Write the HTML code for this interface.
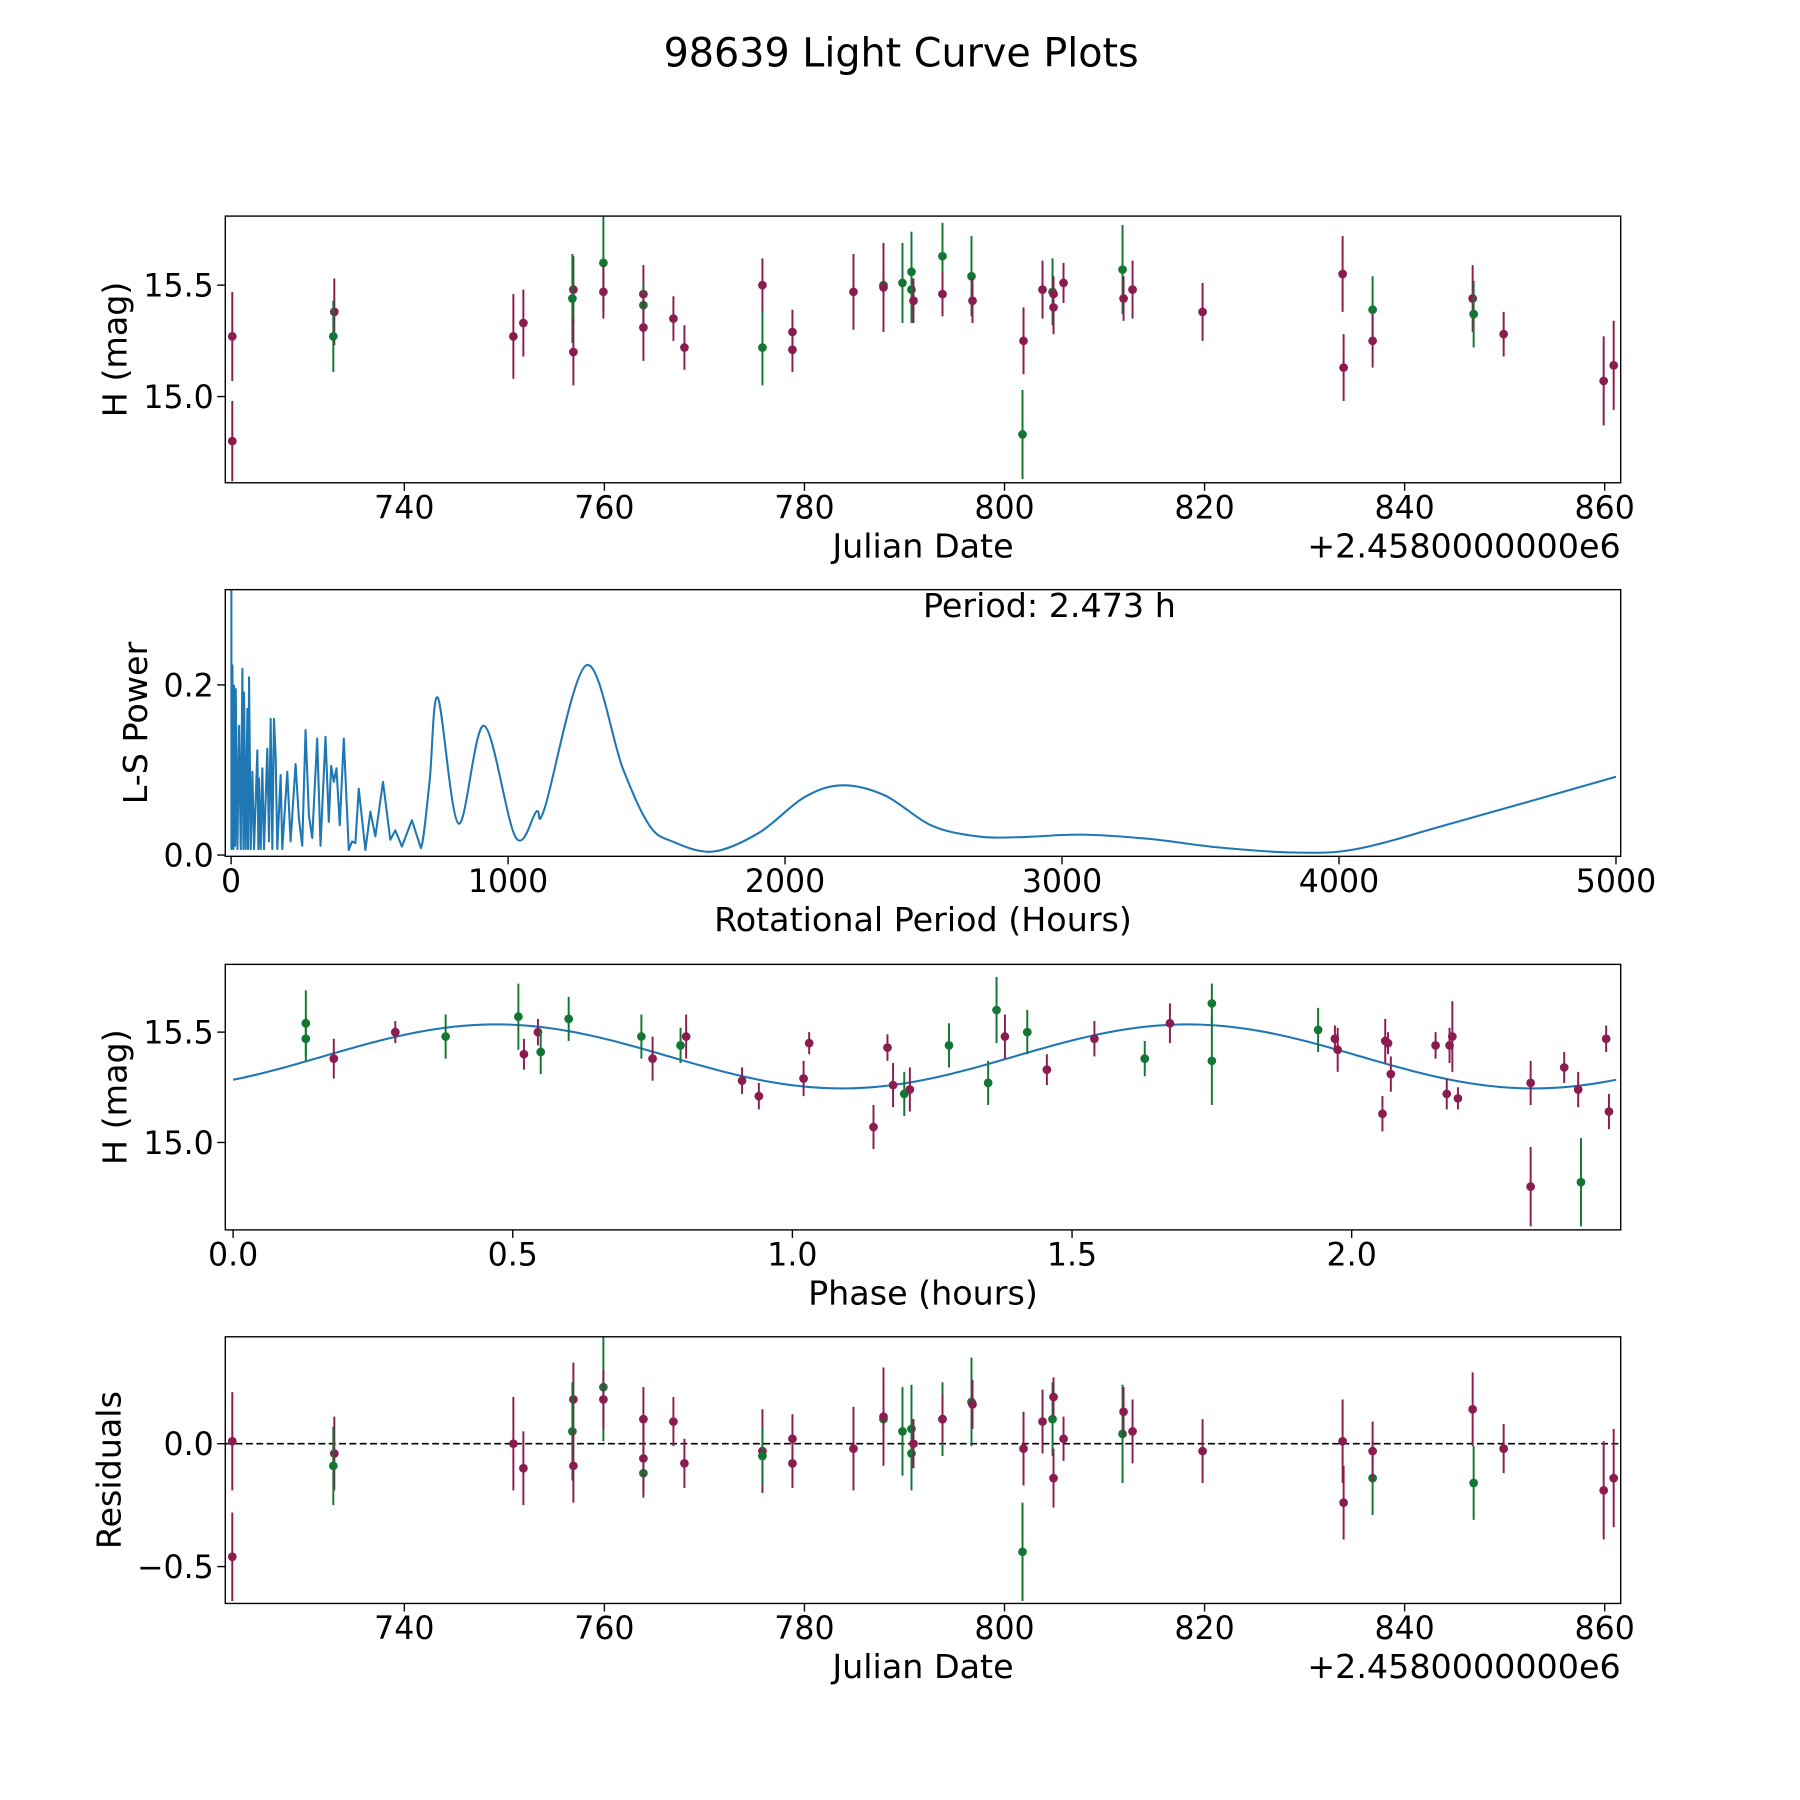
<!DOCTYPE html>
<html><head><meta charset="utf-8"><style>
html,body{margin:0;padding:0;background:#fff}
svg{display:block;font-family:"DejaVu Sans","Liberation Sans",sans-serif}
</style></head><body>
<svg id="fig" width="1800" height="1800" viewBox="0 0 1566 1566" xmlns="http://www.w3.org/2000/svg">
<rect width="1566" height="1566" fill="#fff"/>
<text x="784" y="58" font-size="34.5" text-anchor="middle">98639 Light Curve Plots</text>
</svg>
<script>
// ---------- data ----------
const PURPLE="#8a1c50", GREEN="#117733", BLUE="#1f77b4";
// panel 1: raw light curve
const lcDates=[722.8,722.8,733.0,732.9,750.9,751.9,756.9,756.8,756.9,759.9,759.9,763.9,763.9,763.9,766.9,768.0,775.8,775.8,778.8,778.8,784.9,787.9,787.9,789.8,790.7,790.7,790.9,793.8,793.8,796.7,796.8,801.9,801.8,803.8,804.8,804.9,804.9,805.9,811.8,811.9,812.8,819.8,833.8,833.9,836.8,836.8,846.8,846.9,849.9,859.9,860.9];
const lcMags=[14.80,15.27,15.38,15.27,15.27,15.33,15.48,15.44,15.20,15.60,15.47,15.46,15.41,15.31,15.35,15.22,15.22,15.50,15.29,15.21,15.47,15.50,15.49,15.51,15.56,15.48,15.43,15.63,15.46,15.54,15.43,15.25,14.83,15.48,15.47,15.46,15.40,15.51,15.57,15.44,15.48,15.38,15.55,15.13,15.39,15.25,15.44,15.37,15.28,15.07,15.14];
const lcErrs=[0.18,0.2,0.15,0.16,0.19,0.15,0.15,0.2,0.15,0.22,0.12,0.13,0.1,0.15,0.1,0.1,0.17,0.12,0.1,0.1,0.17,0.05,0.2,0.18,0.18,0.15,0.1,0.15,0.1,0.18,0.1,0.15,0.2,0.13,0.15,0.08,0.12,0.09,0.2,0.1,0.13,0.13,0.17,0.15,0.15,0.12,0.15,0.15,0.1,0.2,0.2];
const lcBands=["P","P","P","G","P","P","P","G","P","G","P","P","G","P","P","P","G","P","P","P","P","G","P","G","G","G","P","G","P","G","P","P","G","P","G","P","P","P","G","P","P","P","P","P","G","P","P","G","P","P","P"];
// panel 2: periodogram
const lsPeriods=[1,1.2,4.8,8.4,10.8,14.4,16.8,22.8,28.8,34.8,40.8,44.4,46.8,52.8,58.8,61.2,64.8,70.8,76.8,82.8,94.8,98.4,100.8,106.8,112.8,118.8,130.8,136.8,142.8,148.8,154.8,160.8,166.8,178.8,184.8,202.8,214.8,232.8,244.8,256.8,268.8,280.8,292.8,310.8,322.8,340.8,352.8,361.2,370.8,380.4,392.4,406.8,424.8,436.8,448.8,460.8,484.8,502.8,520.8,548.4,574.8,592.8,616.8,652.8,685.2,716.4,746.4,821,913,1027,1102,1132,1282,1414,1510,1593,1738,1905,2070,2207,2361,2527,2693,2850,3066,3315,3564,3834,4062,4394,5000];
const lsPowers=[0.32,0.007,0.223,0.007,0.199,0.011,0.195,0.007,0.152,0.007,0.219,0.007,0.191,0.007,0.172,0.007,0.209,0.007,0.098,0.007,0.123,0.007,0.090,0.007,0.102,0.007,0.125,0.016,0.160,0.007,0.160,0.117,0.007,0.094,0.007,0.098,0.016,0.107,0.043,0.011,0.147,0.047,0.020,0.137,0.011,0.139,0.039,0.105,0.086,0.102,0.035,0.137,0.006,0.016,0.014,0.078,0.006,0.051,0.022,0.086,0.018,0.029,0.010,0.041,0.008,0.086,0.185,0.037,0.152,0.021,0.051,0.055,0.223,0.102,0.035,0.016,0.004,0.026,0.068,0.082,0.070,0.035,0.022,0.021,0.024,0.019,0.009,0.003,0.007,0.036,0.092];
const periodLabel="Period: 2.473 h";
// panel 3: phased curve
const phPhases=[0.13,0.13,0.18,0.29,0.38,0.51,0.52,0.545,0.55,0.60,0.73,0.75,0.80,0.81,0.91,0.94,1.02,1.03,1.145,1.17,1.18,1.20,1.21,1.28,1.35,1.365,1.38,1.42,1.455,1.54,1.63,1.675,1.75,1.75,1.94,1.97,1.975,2.055,2.06,2.065,2.07,2.15,2.17,2.175,2.18,2.19,2.32,2.32,2.38,2.405,2.41,2.455,2.46];
const phMags=[15.54,15.47,15.38,15.50,15.48,15.57,15.40,15.50,15.41,15.56,15.48,15.38,15.44,15.48,15.28,15.21,15.29,15.45,15.07,15.43,15.26,15.22,15.24,15.44,15.27,15.60,15.48,15.50,15.33,15.47,15.38,15.54,15.63,15.37,15.51,15.47,15.42,15.13,15.46,15.45,15.31,15.44,15.22,15.44,15.48,15.20,15.27,14.80,15.34,15.24,14.82,15.47,15.14];
const phErrs=[0.15,0.1,0.09,0.05,0.1,0.15,0.07,0.06,0.1,0.1,0.1,0.1,0.08,0.1,0.06,0.06,0.08,0.05,0.1,0.06,0.1,0.1,0.1,0.1,0.1,0.15,0.1,0.1,0.07,0.08,0.08,0.09,0.09,0.2,0.1,0.06,0.1,0.08,0.1,0.05,0.08,0.06,0.07,0.08,0.16,0.05,0.1,0.18,0.07,0.08,0.2,0.06,0.08];
const phBands=["G","G","P","P","G","G","P","P","G","G","G","P","G","P","P","P","P","P","P","P","P","G","P","G","G","G","P","G","P","P","G","P","G","G","G","P","P","P","P","P","P","P","P","P","P","P","P","P","P","P","G","P","P"];
const modelMean=15.39, modelAmp=0.145, modelPeakPhase=0.47, modelCycle=1.2365;
// panel 4: residuals
const resDates=[722.8,722.8,733.0,732.9,750.9,751.9,756.9,756.8,756.9,759.9,759.9,763.9,763.9,763.9,766.9,768.0,775.8,775.8,778.8,778.8,784.9,787.9,787.9,789.8,790.7,790.7,790.9,793.8,793.8,796.7,796.8,801.9,801.8,803.8,804.8,804.9,804.9,805.9,811.8,811.9,812.8,819.8,833.8,833.9,836.8,836.8,846.8,846.9,849.9,859.9,860.9];
const resVals=[-0.46,0.01,-0.04,-0.09,0.0,-0.10,0.18,0.05,-0.09,0.23,0.18,0.10,-0.12,-0.06,0.09,-0.08,-0.03,-0.05,0.02,-0.08,-0.02,0.10,0.11,0.05,0.06,-0.04,0.0,0.10,0.10,0.17,0.16,-0.02,-0.44,0.09,0.10,0.19,-0.14,0.02,0.04,0.13,0.05,-0.03,0.01,-0.24,-0.14,-0.03,0.14,-0.16,-0.02,-0.19,-0.14];
const resBands=["P","P","P","G","P","P","P","G","P","G","P","P","G","P","P","P","P","G","P","P","P","G","P","G","G","G","P","G","P","G","P","P","G","P","G","P","P","P","G","P","P","P","P","P","G","P","P","G","P","P","P"];
const resErrs=lcErrs;
const dateTicks=[740,760,780,800,820,840,860];
const magTicks=[15.0,15.5];
const periodTicks=[0,1000,2000,3000,4000,5000];
const powerTicks=[0.0,0.2];
const phaseTicks=[0.0,0.5,1.0,1.5,2.0];
const resTicks=[-0.5,0.0];

// ---------- drawing ----------
const NS="http://www.w3.org/2000/svg";
const svg=document.getElementById('fig');
function el(tag,attrs,parent){const e=document.createElementNS(NS,tag);for(const k in attrs)e.setAttribute(k,attrs[k]);(parent||svg).appendChild(e);return e;}
function lin(d0,d1,r0,r1){return v=>r0+(v-d0)/(d1-d0)*(r1-r0);}
const L=196,R=1410;
const TF=27.5, LF=29;
function panel(name,top,bottom,xd,yd,xticks,yticks,xfmt,yfmt,xlabel,ylabel,ylabelX,offset){
  const g=el('g',{});
  
  
  const cid='clip-'+name;
  const cp=el('clipPath',{id:cid},g);el('rect',{x:L,y:top,width:R-L,height:bottom-top},cp);
  const x=lin(xd[0],xd[1],L,R), y=lin(yd[0],yd[1],bottom,top);
  const plot=el('g',{'clip-path':'url(#'+cid+')'},g);
  
  
  const ax=el('g',{},g);
  
  
  xticks.forEach(t=>{const px=x(t);el('line',{x1:px,x2:px,y1:bottom,y2:bottom+7,stroke:'#000','stroke-width':1.2},ax);
    const tx=el('text',{x:px,y:bottom+31,'font-size':TF,'text-anchor':'middle'},ax);tx.textContent=xfmt(t);
    
    });
  yticks.forEach(t=>{const py=y(t);el('line',{x1:L-7,x2:L,y1:py,y2:py,stroke:'#000','stroke-width':1.2},ax);
    const tx=el('text',{x:L-10,y:py+10,'font-size':TF,'text-anchor':'end'},ax);tx.textContent=yfmt(t);
    
    });
  const xl=el('text',{x:(L+R)/2,y:bottom+65,'font-size':LF,'text-anchor':'middle'},ax);xl.textContent=xlabel;
  
  
  const cy=(top+bottom)/2;
  const yl=el('text',{x:ylabelX,y:cy,'font-size':LF,'text-anchor':'middle',transform:`rotate(-90 ${ylabelX} ${cy})`},ax);yl.textContent=ylabel;
  
  
  if(offset){const o=el('text',{x:R,y:bottom+65,'font-size':LF,'text-anchor':'end'},ax);o.textContent=offset;
    
    }
  return {x,y,plot,ax,top,bottom};
}
function frame(p){const r=el('rect',{x:L,y:p.top,width:R-L,height:p.bottom-p.top,fill:'none',stroke:'#000','stroke-width':1.2},p.ax);
  
  }
function errpts(p,xs,ys,es,bands,nm){
  xs.forEach((xv,i)=>{const c=bands[i]==='G'?GREEN:PURPLE;const px=p.x(xv);
    const ln=el('line',{x1:px,x2:px,y1:p.y(ys[i]-es[i]),y2:p.y(ys[i]+es[i]),stroke:c,'stroke-width':1.7},p.plot);
    
    
    const m=el('circle',{cx:px,cy:p.y(ys[i]),r:3.8,fill:c},p.plot);
    
    });
}
const f0=v=>String(v), f1=v=>v.toFixed(1), fm=v=>v<0?'\u2212'+Math.abs(v).toFixed(1):v.toFixed(1);
// panel 1
const p1=panel('light-curve-panel',188,420,[722.1,861.6],[14.613,15.81],dateTicks,magTicks,f0,f1,'Julian Date','H (mag)',110,'+2.4580000000e6');
errpts(p1,lcDates,lcMags,lcErrs,lcBands,'light-curve');frame(p1);
// panel 2
const p2=panel('periodogram-panel',513,745,[-21,5017],[-0.0015,0.312],periodTicks,powerTicks,f0,f1,'Rotational Period (Hours)','L-S Power',128,null);
(function(){
  const pts=lsPeriods.map((v,i)=>[p2.x(v),p2.y(lsPowers[i])]);
  let d='M'+pts[0][0]+','+pts[0][1];
  for(let i=1;i<pts.length;i++){
    if(lsPeriods[i]<700){d+='L'+pts[i][0]+','+pts[i][1];continue;}
    const p0=pts[i-2]||pts[i-1],a=pts[i-1],b=pts[i],p3=pts[i+1]||b;
    const c1=[a[0]+(b[0]-p0[0])/6,a[1]+(b[1]-p0[1])/6],c2=[b[0]-(p3[0]-a[0])/6,b[1]-(p3[1]-a[1])/6];
    d+=`C${c1[0]},${c1[1]} ${c2[0]},${c2[1]} ${b[0]},${b[1]}`;
  }
  const pa=el('path',{d,fill:'none',stroke:BLUE,'stroke-width':1.8,'stroke-linejoin':'round'},p2.plot);
  
  
  const t=el('text',{x:913,y:537,'font-size':LF,'text-anchor':'middle'},p2.ax);t.textContent=periodLabel;
  
  
})();
frame(p2);
// panel 3
const p3=panel('phase-panel',839,1070,[-0.014,2.481],[14.604,15.807],phaseTicks,magTicks,f1,f1,'Phase (hours)','H (mag)',110,null);
(function(){
  let d='';const n=300;
  for(let i=0;i<=n;i++){const ph=2.473*i/n;const m=modelMean+modelAmp*Math.cos(2*Math.PI*(ph-modelPeakPhase)/modelCycle);
    d+=(i?'L':'M')+p3.x(ph)+','+p3.y(m);}
  const pa=el('path',{d,fill:'none',stroke:BLUE,'stroke-width':1.8},p3.plot);
  
  
})();
errpts(p3,phPhases,phMags,phErrs,phBands,'phase');frame(p3);
// panel 4
const p4=panel('residuals-panel',1163,1395,[722.1,861.6],[-0.65,0.435],dateTicks,resTicks,f0,fm,'Julian Date','Residuals',105,'+2.4580000000e6');
(function(){const zl=el('line',{x1:L,x2:R,y1:p4.y(0),y2:p4.y(0),stroke:'#000','stroke-width':1.4,'stroke-dasharray':'6,3'},p4.plot);
  
  })();
errpts(p4,resDates,resVals,resErrs,resBands,'residual');frame(p4);
</script>
</body></html>
